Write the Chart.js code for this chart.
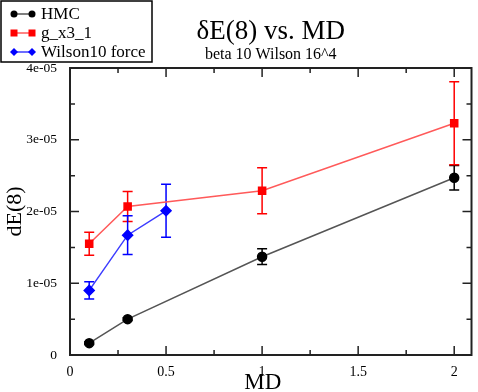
<!DOCTYPE html>
<html>
<head>
<meta charset="utf-8">
<script src="https://cdn.jsdelivr.net/npm/chart.js@4"></script>
<style>
  html, body { margin: 0; padding: 0; background: #fff; }
  #wrap { width: 478px; height: 392px; }
</style>
</head>
<body>
<div id="wrap"><canvas id="deChart" width="478" height="392"></canvas></div>
<script>
// values
const seriesNames = ['HMC', 'g_x3_1', 'Wilson10 force'];
const hmcMD = [0.1, 0.3, 1.0, 2.0];
const hmcDE = [1.65e-6, 5.0e-6, 1.37e-5, 2.47e-5];
const hmcErr = [0.02e-5, 0.02e-5, 0.11e-5, 0.17e-5];
const gMD = [0.1, 0.3, 1.0, 2.0];
const gDE = [1.55e-5, 2.07e-5, 2.29e-5, 3.23e-5];
const gErr = [0.16e-5, 0.21e-5, 0.32e-5, 0.58e-5];
const wMD = [0.1, 0.3, 0.5];
const wDE = [0.90e-5, 1.67e-5, 2.01e-5];
const wErr = [0.12e-5, 0.27e-5, 0.37e-5];
const xTicks = [0, 0.5, 1, 1.5, 2];
const yTicks = [0, 1e-5, 2e-5, 3e-5, 4e-5];

const serif = '"Liberation Serif", "DejaVu Serif", serif';
const axisColor = '#222';

function pts(xs, ys) {
  return xs.map((x, i) => ({ x: x, y: ys[i] }));
}

// vertical error bars with caps
const errorBars = {
  id: 'errorBars',
  beforeDatasetsDraw(chart) {
    const ctx = chart.ctx;
    const ys = chart.scales.y;
    chart.data.datasets.forEach((ds, di) => {
      const meta = chart.getDatasetMeta(di);
      ctx.save();
      ctx.strokeStyle = ds.pointBackgroundColor;
      ctx.lineWidth = 1.5;
      meta.data.forEach((pt, i) => {
        const v = ds.data[i].y, e = ds.errors[i];
        const top = ys.getPixelForValue(v + e);
        const bot = ys.getPixelForValue(v - e);
        ctx.beginPath();
        ctx.moveTo(pt.x, top); ctx.lineTo(pt.x, bot);
        ctx.moveTo(pt.x - 5, top); ctx.lineTo(pt.x + 5, top);
        ctx.moveTo(pt.x - 5, bot); ctx.lineTo(pt.x + 5, bot);
        ctx.stroke();
      });
      ctx.restore();
    });
  }
};

// xmgrace style frame with inward ticks on all sides
const frame = {
  id: 'frame',
  afterDatasetsDraw(chart) {
    const ctx = chart.ctx;
    const a = chart.chartArea;
    const xs = chart.scales.x, ys = chart.scales.y;
    ctx.save();
    ctx.strokeStyle = axisColor;
    ctx.lineWidth = 2;
    ctx.strokeRect(a.left, a.top, a.right - a.left, a.bottom - a.top);
    ctx.lineWidth = 1.5;
    ctx.beginPath();
    for (let v = 0; v <= 2.001; v += 0.25) {
      const px = xs.getPixelForValue(v);
      const len = (Math.abs(v * 2 - Math.round(v * 2)) < 1e-6) ? 9 : 5;
      ctx.moveTo(px, a.bottom); ctx.lineTo(px, a.bottom - len);
      ctx.moveTo(px, a.top); ctx.lineTo(px, a.top + len);
    }
    for (let k = 0; k <= 8; k++) {
      const py = ys.getPixelForValue(k * 0.5e-5);
      const len = (k % 2 === 0) ? 9 : 5;
      ctx.moveTo(a.left, py); ctx.lineTo(a.left + len, py);
      ctx.moveTo(a.right, py); ctx.lineTo(a.right - len, py);
    }
    ctx.stroke();
    ctx.restore();
  },
  afterDraw(chart) {
    const ctx = chart.ctx;
    const a = chart.chartArea;
    const cx = (a.left + a.right) / 2;
    ctx.save();
    ctx.fillStyle = '#000';
    ctx.textAlign = 'center';
    ctx.textBaseline = 'alphabetic';
    ctx.font = '27px ' + serif;
    ctx.fillText('\u03b4E(8) vs. MD', cx, 39);
    ctx.font = '16px ' + serif;
    ctx.fillText('beta 10 Wilson 16^4', cx, 59);

    // x axis title
    ctx.font = '23px ' + serif;
    ctx.fillText('MD', cx - 8, 389);

    // legend box
    ctx.fillStyle = '#fff';
    ctx.fillRect(1, 1, 151, 61);
    ctx.strokeStyle = '#000';
    ctx.lineWidth = 1.5;
    ctx.strokeRect(1, 1, 151, 61);
    ctx.textAlign = 'left';
    ctx.textBaseline = 'middle';
    ctx.font = '17px ' + serif;
    chart.data.datasets.forEach((ds, i) => {
      const y = 14 + i * 19;
      ctx.strokeStyle = ds.borderColor;
      ctx.lineWidth = 1.5;
      ctx.beginPath();
      ctx.moveTo(14, y); ctx.lineTo(32, y);
      ctx.stroke();
      ctx.fillStyle = ds.pointBackgroundColor;
      [14, 32].forEach(px => {
        ctx.beginPath();
        if (ds.pointStyle === 'rect') {
          ctx.rect(px - 3.5, y - 3.5, 7, 7);
        } else if (ds.pointStyle === 'rectRot') {
          ctx.moveTo(px, y - 4); ctx.lineTo(px + 4, y); ctx.lineTo(px, y + 4); ctx.lineTo(px - 4, y);
          ctx.closePath();
        } else {
          ctx.arc(px, y, 3.5, 0, Math.PI * 2);
        }
        ctx.fill();
      });
      ctx.fillStyle = '#000';
      ctx.fillText(ds.label, 41, y + 1);
    });
    ctx.restore();
  }
};

new Chart(document.getElementById('deChart'), {
  type: 'scatter',
  data: {
    datasets: [
      {
        label: seriesNames[0],
        data: pts(hmcMD, hmcDE),
        errors: hmcErr,
        showLine: true,
        borderColor: '#555555',
        borderWidth: 1.5,
        pointBackgroundColor: '#000000',
        pointBorderColor: '#000000',
        pointStyle: 'circle',
        pointRadius: 4.5
      },
      {
        label: seriesNames[1],
        data: pts(gMD, gDE),
        errors: gErr,
        showLine: true,
        borderColor: '#ff5a5a',
        borderWidth: 1.5,
        pointBackgroundColor: '#ff0000',
        pointBorderColor: '#ff0000',
        pointStyle: 'rect',
        pointRadius: 5
      },
      {
        label: seriesNames[2],
        data: pts(wMD, wDE),
        errors: wErr,
        showLine: true,
        borderColor: '#3c3cff',
        borderWidth: 1.5,
        pointBackgroundColor: '#0000ff',
        pointBorderColor: '#0000ff',
        pointStyle: 'rectRot',
        pointRadius: 5
      }
    ]
  },
  options: {
    responsive: false,
    animation: false,
    layout: { padding: { top: 68, right: 1, left: 0, bottom: 0 } },
    plugins: {
      legend: { display: false },
      tooltip: { enabled: false }
    },
    scales: {
      x: {
        type: 'linear',
        min: 0,
        max: 2.09,
        afterBuildTicks: s => { s.ticks = xTicks.map(v => ({ value: v })); },
        afterFit: s => { s.height = 37; },
        grid: { display: false },
        border: { display: false },
        ticks: {
          color: '#000',
          padding: 1,
          font: { family: serif, size: 14 },
          callback: v => String(v)
        },
        title: { display: false }
      },
      y: {
        min: 0,
        max: 4e-5,
        afterBuildTicks: s => { s.ticks = yTicks.map(v => ({ value: v })); },
        afterFit: s => { s.width = 70; },
        grid: { display: false },
        border: { display: false },
        ticks: {
          color: '#000',
          padding: 5,
          font: { family: serif, size: 13.5 },
          callback: v => v === 0 ? '0' : v.toExponential(0).replace(/e-(\d)$/, 'e-0$1')
        },
        title: {
          display: true,
          text: 'dE(8)',
          color: '#000',
          font: { family: serif, size: 22 },
          padding: { top: 2, bottom: 0 }
        }
      }
    }
  },
  plugins: [errorBars, frame]
});
</script>
</body>
</html>
